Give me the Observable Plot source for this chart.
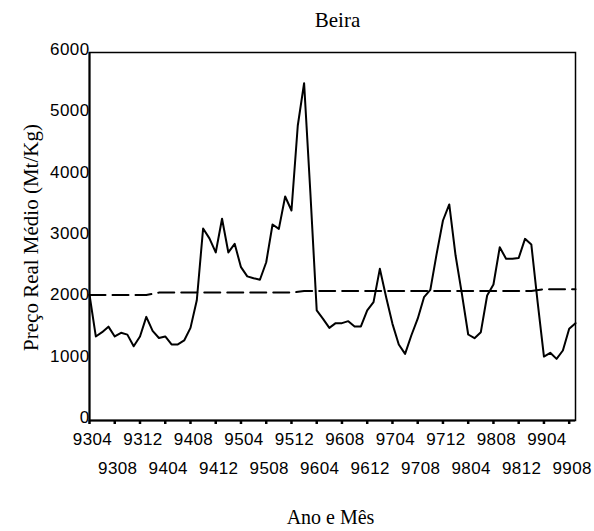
<!DOCTYPE html>
<html>
<head>
<meta charset="utf-8">
<script src="https://cdn.jsdelivr.net/npm/d3@7"></script>
<script src="https://cdn.jsdelivr.net/npm/@observablehq/plot@0.6"></script>
<style>
  body { margin: 0; background: #fff; }
  #chart svg g[aria-label="x-axis tick label"] text,
  #chart svg g[aria-label="y-axis tick label"] text { letter-spacing: 0.4px; }
</style>
</head>
<body>
<div id="chart"></div>
<script>
// Months (YYMM), April 1993 to September 1999
const months = [
  "9304","9305","9306","9307","9308","9309","9310","9311","9312",
  "9401","9402","9403","9404","9405","9406","9407","9408","9409","9410","9411","9412",
  "9501","9502","9503","9504","9505","9506","9507","9508","9509","9510","9511","9512",
  "9601","9602","9603","9604","9605","9606","9607","9608","9609","9610","9611","9612",
  "9701","9702","9703","9704","9705","9706","9707","9708","9709","9710","9711","9712",
  "9801","9802","9803","9804","9805","9806","9807","9808","9809","9810","9811","9812",
  "9901","9902","9903","9904","9905","9906","9907","9908","9909"
];
// Preço Real Médio (Mt/Kg), Beira
const prices = [
  2050,1370,1440,1530,1370,1430,1400,1210,1370,
  1690,1460,1345,1370,1240,1240,1305,1510,1960,3130,2970,2740,
  3290,2740,2880,2500,2350,2320,2295,2580,3196,3125,3652,3424,
  4810,5500,3700,1794,1658,1511,1587,1587,1620,1533,1533,1794,
  1929,2473,2010,1576,1239,1087,1390,1660,2011,2130,2717,3261,
  3522,2690,2065,1402,1342,1440,2038,2217,2826,2636,2636,2650,
  2962,2870,1929,1043,1103,1005,1141,1495,1587
];
// Dashed trend line
const trendMonths = ["9304","9401","9403","9512","9602","9902","9904","9909"];
const trendValues = [2045,2045,2085,2085,2110,2110,2140,2140];

const tickRow1 = ["9304","9312","9408","9504","9512","9608","9704","9712","9808","9904"];
const tickRow2 = ["9308","9404","9412","9508","9604","9612","9708","9804","9812","9908"];
const yTicks = [0,1000,2000,3000,4000,5000,6000];

const titleText = "Beira";
const yTitle = "Preço Real Médio (Mt/Kg)";
const xTitle = "Ano e Mês";

const serif = "'Liberation Serif', 'Times New Roman', serif";
const sans = "'Liberation Sans', Arial, sans-serif";

const pos = m => months.indexOf(m);
const series = months.map((m, i) => ({t: i, price: prices[i]}));
const trend = trendMonths.map((m, i) => ({t: pos(m), value: trendValues[i]}));
const row1 = tickRow1.map(pos);
const row2 = tickRow2.map(pos);
const allTicks = row1.concat(row2);

const chart = Plot.plot({
  width: 594,
  height: 531,
  marginLeft: 89,
  marginRight: 19,
  marginTop: 52,
  marginBottom: 111,
  style: {fontFamily: sans, fontSize: "17px", background: "#fff", color: "#000", overflow: "visible"},
  x: {domain: [0, months.length - 1]},
  y: {domain: [0, 6000]},
  marks: [
    Plot.frame({stroke: "#000", strokeWidth: 1.5}),
    Plot.axisY({ticks: yTicks, tickSize: 0, tickPadding: 0, dy: -3, label: null, tickFormat: d => String(d), fontSize: 17}),
    Plot.axisX({ticks: allTicks, tickSize: 4, fill: "none", strokeWidth: 2.5, label: null}),
    Plot.axisX({ticks: row1, tickSize: 0, tickPadding: 12, dx: 3, label: null, tickFormat: i => months[i], fontSize: 17}),
    Plot.axisX({ticks: row2, tickSize: 0, tickPadding: 41, dx: 3, label: null, tickFormat: i => months[i], fontSize: 17}),
    Plot.line(trend, {x: "t", y: "value", stroke: "#000", strokeWidth: 2, strokeDasharray: "16,7"}),
    Plot.line(series, {x: "t", y: "price", stroke: "#000", strokeWidth: 2}),
    Plot.ruleY([0], {stroke: "#000", strokeWidth: 2}),
    Plot.ruleX([0], {stroke: "#000", strokeWidth: 2}),
    Plot.text([titleText], {frameAnchor: "top", textAnchor: "middle", lineAnchor: "middle", dx: 5, dy: -32, fontFamily: serif, fontSize: 21, fill: "#000"}),
    Plot.text([yTitle], {frameAnchor: "left", textAnchor: "middle", lineAnchor: "middle", dx: -58, dy: 1, rotate: -90, fontFamily: serif, fontSize: 21, fill: "#000"}),
    Plot.text([xTitle], {frameAnchor: "bottom", textAnchor: "middle", lineAnchor: "middle", dx: -2, dy: 97, fontFamily: serif, fontSize: 20, fill: "#000"})
  ]
});
document.getElementById("chart").appendChild(chart);
</script>
</body>
</html>
